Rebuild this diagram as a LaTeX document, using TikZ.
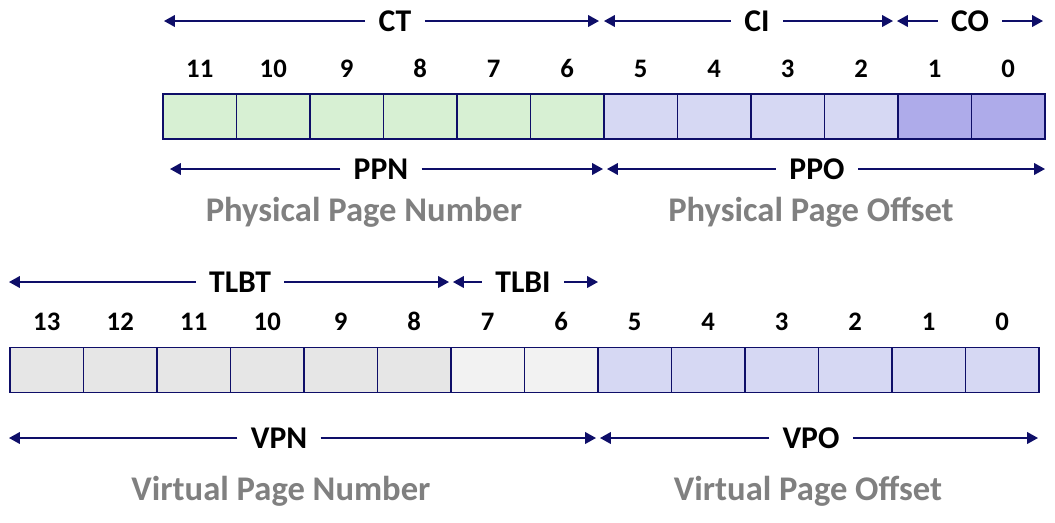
\documentclass[tikz,border=0pt]{standalone}
\usepackage{fontspec}
\setmainfont{Carlito}
\usetikzlibrary{arrows.meta,positioning}
\definecolor{addrGreen}{RGB}{215,240,211}
\definecolor{addrBlue}{RGB}{214,216,243}
\definecolor{addrPurple}{RGB}{174,171,234}
\definecolor{addrGrey}{RGB}{230,230,230}
\definecolor{addrPale}{RGB}{242,242,242}
\definecolor{addrNavy}{RGB}{14,14,104}
\definecolor{addrText}{RGB}{128,128,128}

\begin{document}
\begin{tikzpicture}[
  x=0.025cm, y=-0.025cm,
  cell/.style={
    draw=addrNavy,
    line width=1.1pt,
    minimum width=1.8375cm,
    minimum height=1.125cm,
    inner sep=0pt
  },
  bitnum/.style={inner sep=0pt, font=\fontsize{19}{20}\selectfont\bfseries},
  field/.style={inner xsep=0.33cm, inner ysep=0pt, font=\fontsize{22.5}{24}\selectfont\bfseries},
  fullname/.style={anchor=base, inner sep=0pt, text=addrText, font=\fontsize{24.6}{28}\selectfont\bfseries},
  span/.style={addrNavy, line width=1.1pt, -{Triangle[length=0.27cm,width=0.29cm]}}
]
  \useasboundingbox (0,0) rectangle (1055,522);

  % physical address
  \foreach \b/\c in {11/addrGreen,10/addrGreen,9/addrGreen,8/addrGreen,7/addrGreen,6/addrGreen,
                     5/addrBlue,4/addrBlue,3/addrBlue,2/addrBlue,1/addrPurple,0/addrPurple} {
    \node[cell,fill=\c] (p\b) at ({1045-73.5*(\b+0.5)},116.5) {};
    \node[bitnum,above=0.39cm of p\b] (pn\b) {\b};
  }

  \node[field] (ct) at (395,21) {CT};
  \node[field] (ci) at (757,21) {CI};
  \node[field] (co) at (970,21) {CO};
  \coordinate (ctL) at (164,21);
  \coordinate (ctR) at (599,21);
  \coordinate (ciL) at (604,21);
  \coordinate (ciR) at (893,21);
  \coordinate (coL) at (897,21);
  \coordinate (coR) at (1043,21);
  \draw[span] (ct) -- (ctL);
  \draw[span] (ct) -- (ctR);
  \draw[span] (ci) -- (ciL);
  \draw[span] (ci) -- (ciR);
  \draw[span] (co) -- (coL);
  \draw[span] (co) -- (coR);

  \node[field] (ppn) at (381,169) {PPN};
  \node[field] (ppo) at (817,169) {PPO};
  \coordinate (ppnL) at (170,169);
  \coordinate (ppnR) at (603,169);
  \coordinate (ppoL) at (607,169);
  \coordinate (ppoR) at (1045,169);
  \draw[span] (ppn) -- (ppnL);
  \draw[span] (ppn) -- (ppnR);
  \draw[span] (ppo) -- (ppoL);
  \draw[span] (ppo) -- (ppoR);

  \node[fullname] (ppnName) at (364,221) {Physical Page Number};
  \node[fullname] (ppoName) at (811,221) {Physical Page Offset};

  % virtual address
  \foreach \b/\c in {13/addrGrey,12/addrGrey,11/addrGrey,10/addrGrey,9/addrGrey,8/addrGrey,
                     7/addrPale,6/addrPale,5/addrBlue,4/addrBlue,3/addrBlue,2/addrBlue,1/addrBlue,0/addrBlue} {
    \node[cell,fill=\c] (v\b) at ({1039-73.5*(\b+0.5)},370) {};
    \node[bitnum,above=0.39cm of v\b] (vn\b) {\b};
  }

  \node[field] (tlbt) at (240,282) {TLBT};
  \node[field] (tlbi) at (523,282) {TLBI};
  \coordinate (tlbtL) at (9,282);
  \coordinate (tlbtR) at (449,282);
  \coordinate (tlbiL) at (453,282);
  \coordinate (tlbiR) at (598,282);
  \draw[span] (tlbt) -- (tlbtL);
  \draw[span] (tlbt) -- (tlbtR);
  \draw[span] (tlbi) -- (tlbiL);
  \draw[span] (tlbi) -- (tlbiR);

  \node[field] (vpn) at (279,438) {VPN};
  \node[field] (vpo) at (811,438) {VPO};
  \coordinate (vpnL) at (9,438);
  \coordinate (vpnR) at (596,438);
  \coordinate (vpoL) at (600,438);
  \coordinate (vpoR) at (1038,438);
  \draw[span] (vpn) -- (vpnL);
  \draw[span] (vpn) -- (vpnR);
  \draw[span] (vpo) -- (vpoL);
  \draw[span] (vpo) -- (vpoR);

  \node[fullname] (vpnName) at (281,500) {Virtual Page Number};
  \node[fullname] (vpoName) at (808,500) {Virtual Page Offset};
\end{tikzpicture}
\end{document}
